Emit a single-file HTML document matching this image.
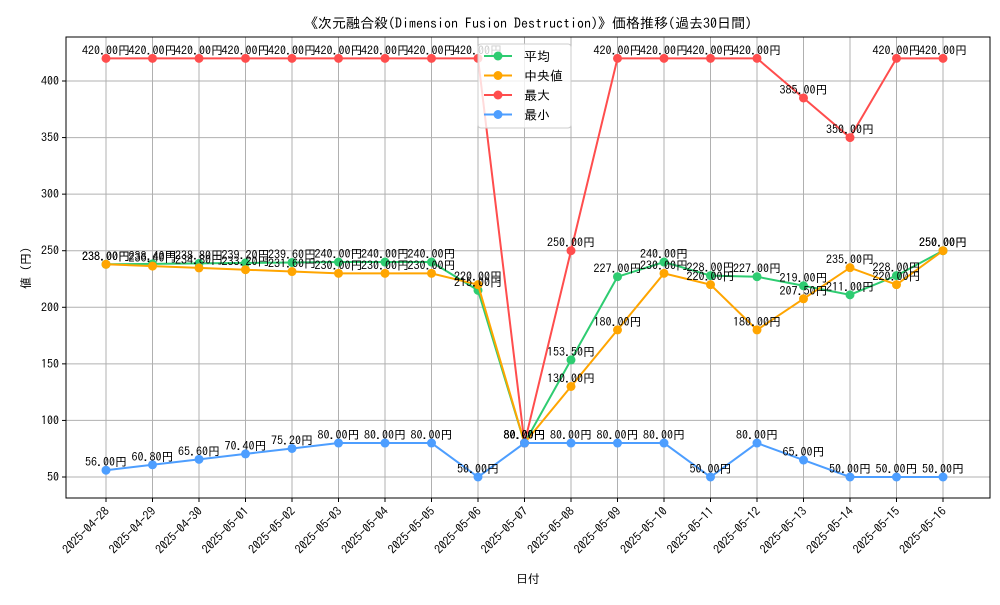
<!DOCTYPE html>
<html><head><meta charset="utf-8"><style>
body{margin:0;background:#fff}
text{font-family:"IPAGothic","Noto Sans CJK JP",monospace}
</style></head><body>
<svg id="c" width="1000" height="600"></svg>
<script>
const dates=["2025-04-28","2025-04-29","2025-04-30","2025-05-01","2025-05-02","2025-05-03","2025-05-04","2025-05-05","2025-05-06","2025-05-07","2025-05-08","2025-05-09","2025-05-10","2025-05-11","2025-05-12","2025-05-13","2025-05-14","2025-05-15","2025-05-16"];
const meanVals=[238,238.4,238.8,239.2,239.6,240,240,240,215,80,153.5,227,240,228,227,219,211,228,250];
const medianVals=[238,236.4,234.8,233.2,231.6,230,230,230,220,80,130,180,230,220,180,207.5,235,220,250];
const maxVals=[420,420,420,420,420,420,420,420,420,80,250,420,420,420,420,385,350,420,420];
const minVals=[56,60.8,65.6,70.4,75.2,80,80,80,50,80,80,80,80,50,80,65,50,50,50];
const yTicks=[50,100,150,200,250,300,350,400];
const NS="http://www.w3.org/2000/svg";
const svg=document.getElementById('c');
const L=66,R=990,T=37,B=498;
const x=i=>106+i*(943-106)/(dates.length-1);
const y=v=>477-(v-50)*(477-81)/350;
function el(t,a,p){const e=document.createElementNS(NS,t);for(const k in a)e.setAttribute(k,a[k]);(p||svg).appendChild(e);return e;}
yTicks.forEach(v=>{
 const g=el('line',{x1:L,x2:R,y1:y(v),y2:y(v),stroke:'#b0b0b0','stroke-width':1});
 
 
 el('line',{x1:L-4,x2:L,y1:y(v),y2:y(v),stroke:'#000'});
 const t=el('text',{x:L-7,y:y(v)+4,'text-anchor':'end','font-size':12});
 t.textContent=v;
 
 
});
dates.forEach((d,i)=>{
 const g=el('line',{x1:x(i),x2:x(i),y1:T,y2:B,stroke:'#b0b0b0','stroke-width':1});
 
 
 el('line',{x1:x(i),x2:x(i),y1:B,y2:B+4,stroke:'#000'});
 const t=el('text',{x:x(i)+4,y:B+14,'text-anchor':'end','font-size':12,transform:`rotate(-45 ${x(i)+4} ${B+14})`});
 t.textContent=d;
 
 
});
const series=[[meanVals,'#2ecc71','mean'],[medianVals,'#ffa500','median'],[maxVals,'#ff4d4d','max'],[minVals,'#4d9eff','min']];
series.forEach(([vals,col,nm])=>{
 const p=el('polyline',{points:vals.map((v,i)=>x(i)+','+y(v)).join(' '),fill:'none',stroke:col,'stroke-width':2});
 
 
 vals.forEach((v,i)=>{
  const c=el('circle',{cx:x(i),cy:y(v),r:4.5,fill:col});
  
  
 });
});
series.forEach(([vals,col,nm])=>{
 vals.forEach((v,i)=>{
  const t=el('text',{x:x(i),y:y(v)-4,'text-anchor':'middle','font-size':12});
  t.textContent=v.toFixed(2)+'円';
  
  
 });
});
el('rect',{x:L,y:T,width:R-L,height:B-T,fill:'none',stroke:'#000','stroke-width':1});
const lg=el('g',{});


el('rect',{x:478,y:44,width:93,height:84,rx:3,fill:'rgba(255,255,255,0.8)',stroke:'#ccc'},lg);
const names=['平均','中央値','最大','最小'];
series.forEach(([v,col,nm],k)=>{
 const yy=56+k*19.5;
 el('line',{x1:484,x2:512,y1:yy,y2:yy,stroke:col,'stroke-width':2},lg);
 el('circle',{cx:498,cy:yy,r:4.5,fill:col},lg);
 const t=el('text',{x:524,y:yy+5,'font-size':13},lg);
 t.textContent=names[k];
 
 
});
const tt=el('text',{x:528,y:28,'text-anchor':'middle','font-size':14});
tt.textContent='《次元融合殺(Dimension Fusion Destruction)》価格推移(過去30日間)';


const xt=el('text',{x:528,y:583,'text-anchor':'middle','font-size':12});
xt.textContent='日付';


const yt=el('text',{x:30,y:268,'text-anchor':'middle','font-size':12,transform:'rotate(-90 30 268)'});
yt.textContent='値 (円)';


</script>
</body></html>
